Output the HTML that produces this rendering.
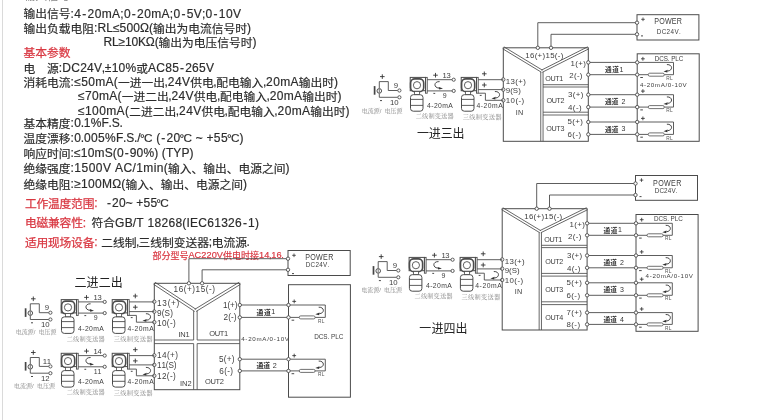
<!DOCTYPE html>
<html lang="zh"><head><meta charset="utf-8"><title>Signal isolator specifications and wiring diagrams</title>
<style>
html,body{margin:0;padding:0;background:#fff}
body{width:766px;height:420px;overflow:hidden;font-family:"Liberation Sans","Noto Sans CJK SC",sans-serif}
svg{display:block}
svg text{font-family:"Liberation Sans","Noto Sans CJK SC",sans-serif}
svg text.sf{font-family:"Liberation Serif","Noto Serif CJK SC",serif}
</style></head><body>
<svg width="766" height="420" viewBox="0 0 766 420">
<defs><filter id="soft" x="0" y="0" width="766" height="420" filterUnits="userSpaceOnUse"><feGaussianBlur stdDeviation="0.42"/></filter></defs>
<rect width="766" height="420" fill="#fff"/>
<g filter="url(#soft)">
<rect x="2" y="0" width="1" height="420" fill="#dadada"/>
<g fill="#888" font-size="12" aria-label="输入信号:"><text x="23.6 35.35 47.1 58.84" y="0.03" font-size="11.75">输入信号</text><text x="70.59" y="-0.5">:</text></g>
<g fill="#2c2c2c" font-size="12" stroke="#2c2c2c" stroke-width="0.18" aria-label="输出信号:4-20mA;0-20mA;0-5V;0-10V"><text x="23.6 35.35 47.1 58.84" y="18.13" font-size="11.75">输出信号</text><text x="70.59 74.31 82.27 87.55 94.66 101.72 112.04 120.27 123.88 131.84 137.12 144.23 151.29 161.62 169.84 173.45 181.41 186.69 193.75 201.98 205.59 213.55 218.83 225.94 233" y="17.6">:4-20mA;0-20mA;0-5V;0-10V</text></g>
<g fill="#2c2c2c" font-size="12" stroke="#2c2c2c" stroke-width="0.18" aria-label="输出负载电阻:RL≤500Ω(输出为电流信号时)"><text x="23.6 35.35 47.1 58.84 70.59 82.34" y="32.93" font-size="11.75">输出负载电阻</text><text x="94.09 97.46 106.17 112.88 119.56 126.38 133.2 139.97 148.98" y="32.4">:RL≤500Ω(</text><text x="153.02 164.77 176.52 188.26 200.01 211.76 223.51 235.26" y="32.93" font-size="11.75">输出为电流信号时</text><text x="247" y="32.4">)</text></g>
<g fill="#2c2c2c" font-size="12" stroke="#2c2c2c" stroke-width="0.18" aria-label="RL≥10KΩ(输出为电压信号时)"><text x="103.6 112.06 118.53 124.97 131.54 138.06 145.86 154.63" y="46">RL≥10KΩ(</text><text x="158.42 170.17 181.92 193.66 205.41 217.16 228.91 240.66" y="46.53" font-size="11.75">输出为电压信号时</text><text x="252.4" y="46">)</text></g>
<g fill="#d93842" font-size="12" stroke="#d93842" stroke-width="0.25" aria-label="基本参数"><text x="23.6 35.35 47.1 58.85" y="56.53" font-size="11.75">基本参数</text></g>
<g fill="#2c2c2c" font-size="12" stroke="#2c2c2c" stroke-width="0.18" aria-label="电 源:DC24V,±10%或AC85-265V"><text x="23.6 47.1" y="72.53" font-size="11.75">电源</text><text x="58.84 62.37 71.22 80.13 87.1 94.02 101.74 104.8 111.63 118.59 125.51" y="72">:DC24V,±10%</text><text x="136.37" y="72.53" font-size="11.75">或</text><text x="148.12 156.31 165.22 172.19 180 185.14 192.11 199.08 206" y="72">AC85-265V</text></g>
<g fill="#2c2c2c" font-size="12" stroke="#2c2c2c" stroke-width="0.18" aria-label="消耗电流:≤50mA(一进一出,24V供电,配电输入,20mA输出时)"><text x="23.6 35.35 47.1 58.84" y="86.93" font-size="11.75">消耗电流</text><text x="70.59 74.21 81.14 88.21 95.22 105.51 113.8" y="86.4">:≤50mA(</text><text x="118.08 129.83 141.58 153.32" y="86.93" font-size="11.75">一进一出</text><text x="164.61 167.81 174.88 181.9" y="86.4">,24V</text><text x="190.19 201.93" y="86.93" font-size="11.75">供电</text><text x="213.22" y="86.4">,</text><text x="216.37 228.12 239.87 251.61" y="86.93" font-size="11.75">配电输入</text><text x="262.9 266.1 273.17 280.18 290.47" y="86.4">,20mA</text><text x="298.76 310.51 322.26" y="86.93" font-size="11.75">输出时</text><text x="334" y="86.4">)</text></g>
<g fill="#2c2c2c" font-size="12" stroke="#2c2c2c" stroke-width="0.18" aria-label="≤70mA(一进二出,24V供电,配电输入,20mA输出时)"><text x="78 84.91 91.97 98.97 109.25 117.53" y="100.4">≤70mA(</text><text x="121.8 133.55 145.29 157.04" y="100.93" font-size="11.75">一进二出</text><text x="168.32 171.52 178.57 185.58" y="100.4">,24V</text><text x="193.86 205.6" y="100.93" font-size="11.75">供电</text><text x="216.89" y="100.4">,</text><text x="220.03 231.78 243.52 255.27" y="100.93" font-size="11.75">配电输入</text><text x="266.55 269.75 276.81 283.81 294.08" y="100.4">,20mA</text><text x="302.36 314.11 325.86" y="100.93" font-size="11.75">输出时</text><text x="337.6" y="100.4">)</text></g>
<g fill="#2c2c2c" font-size="12" stroke="#2c2c2c" stroke-width="0.18" aria-label="≤100mA(二进二出,24V供电,配电输入,20mA输出时)"><text x="78 84.97 92.08 99.19 106.25 116.58 124.91" y="115">≤100mA(</text><text x="129.24 140.99 152.74 164.49" y="115.53" font-size="11.75">二进二出</text><text x="175.77 179.02 186.13 193.19" y="115">,24V</text><text x="201.52 213.27" y="115.53" font-size="11.75">供电</text><text x="224.55" y="115">,</text><text x="227.75 239.5 251.25 262.99" y="115.53" font-size="11.75">配电输入</text><text x="274.28 277.53 284.64 291.7 302.02" y="115">,20mA</text><text x="310.36 322.11 333.86" y="115.53" font-size="11.75">输出时</text><text x="345.6" y="115">)</text></g>
<g fill="#2c2c2c" font-size="12" stroke="#2c2c2c" stroke-width="0.18" aria-label="基本精度:0.1%F.S."><text x="23.6 35.35 47.1 58.84" y="127.83" font-size="11.75">基本精度</text><text x="70.59 74.15 80.64 83.79 90.68 101.52 108.61 111.71 119.47" y="127.3">:0.1%F.S.</text></g>
<g fill="#2c2c2c" font-size="12" stroke="#2c2c2c" stroke-width="0.18" aria-label="温度漂移:0.005%F.S./℃ (-20℃ ~ +55℃)"><text x="23.6 35.35 47.1 58.84" y="142.53" font-size="11.75">温度漂移</text><text x="70.59 74.22 80.78 83.99 91.01 98.03 105 115.91 123.07 126.23 134.07 137.23" y="142">:0.005%F.S./</text><text x="139.91 143.91" y="142" font-size="11.76">°C</text><text x="156.13 161.26 166.45 173.47" y="142">(-20</text><text x="179.53 183.53" y="142" font-size="11.76">°C</text><text x="195.75" y="142">~</text><text x="206.57 213.87 220.89" y="142">+55</text><text x="226.96 230.96" y="142" font-size="11.76">°C</text><text x="239.6" y="142">)</text></g>
<g fill="#2c2c2c" font-size="12" stroke="#2c2c2c" stroke-width="0.18" aria-label="响应时间:≤10mS(0-90%) (TYP)"><text x="23.6 35.35 47.1 58.84" y="157.73" font-size="11.75">响应时间</text><text x="70.59 74.04 80.79 87.69 94.53 104.64 112.76 116.92 124.67 129.73 136.62 143.47 154.25" y="157.2">:≤10mS(0-90%)</text><text x="161.81 165.92 173.37 181.49 189.6" y="157.2">(TYP)</text></g>
<g fill="#2c2c2c" font-size="12" stroke="#2c2c2c" stroke-width="0.18" aria-label="绝缘强度:1500V AC/1min(输入、输出、电源之间)"><text x="23.6 35.35 47.1 58.84" y="172.93" font-size="11.75">绝缘强度</text><text x="70.59 74.35 81.51 88.66 95.82 102.92" y="172.4">:1500V</text><text x="115.01 123.39 132.43 136.19 143.29 153.66 156.7 163.75" y="172.4">AC/1min(</text><text x="168.12 179.87 191.62 203.37 215.12 226.86 238.61 250.36 262.11 273.86" y="172.93" font-size="11.75">输入、输出、电源之间</text><text x="285.6" y="172.4">)</text></g>
<g fill="#2c2c2c" font-size="12" stroke="#2c2c2c" stroke-width="0.18" aria-label="绝缘电阻:≥100MΩ(输入、输出、电源之间)"><text x="23.6 35.35 47.1 58.84" y="188.53" font-size="11.75">绝缘电阻</text><text x="70.59 74.14 80.99 87.99 94.98 101.92 112.13 121.31" y="188">:≥100MΩ(</text><text x="125.52 137.27 149.02 160.77 172.52 184.26 196.01 207.76 219.51 231.26" y="188.53" font-size="11.75">输入、输出、电源之间</text><text x="243" y="188">)</text></g>
<g fill="#d93842" font-size="12" stroke="#d93842" stroke-width="0.25" aria-label="工作温度范围:"><text x="25 36.53 48.06 59.58 71.11 82.64" y="207.93" font-size="11.75">工作温度范围</text><text x="94.17" y="207.4">:</text></g>
<g fill="#2c2c2c" font-size="12" stroke="#2c2c2c" stroke-width="0.18" aria-label="-20~ +55℃"><text x="106.9 111.97 118.88 125.73" y="207.4">-20~</text><text x="136.31 143.5 150.4" y="207.4">+55</text><text x="156.35 160.35" y="207.4" font-size="11.76">°C</text></g>
<g fill="#d93842" font-size="12" stroke="#d93842" stroke-width="0.25" aria-label="电磁兼容性:"><text x="25 36.53 48.07 59.6 71.13" y="227.13" font-size="11.75">电磁兼容性</text><text x="82.67" y="226.6">:</text></g>
<g fill="#2c2c2c" font-size="12" stroke="#2c2c2c" stroke-width="0.18" aria-label="符合GB/T 18268(IEC61326-1)"><text x="91.6 103.35" y="227.13" font-size="11.75">符合</text><text x="115.1 124.63 132.83 136.37" y="226.6">GB/T</text><text x="147.48 154.46 161.44 168.42 175.4 182.33 186.53 190.06 198.26 207.18 214.16 221.14 228.12 235.1 242.93 248.08 255" y="226.6">18268(IEC61326-1)</text></g>
<g fill="#d93842" font-size="12" stroke="#d93842" stroke-width="0.25" aria-label="适用现场设备:"><text x="25 36.53 48.06 59.58 71.11 82.64" y="246.53" font-size="11.75">适用现场设备</text><text x="94.17" y="246">:</text></g>
<g fill="#2c2c2c" font-size="12" stroke="#2c2c2c" stroke-width="0.18" aria-label="二线制,三线制变送器;电流源."><text x="101.2 112.95 124.7" y="246.53" font-size="11.75">二线制</text><text x="135.98" y="246">,</text><text x="138.44 150.18 161.93 173.68 185.43 197.18" y="246.53" font-size="11.75">三线制变送器</text><text x="208.82" y="246">;</text><text x="211.64 223.38 235.13" y="246.53" font-size="11.75">电流源</text><text x="246.47" y="246">.</text></g>
<g fill="#d93842" font-size="9.2" stroke="#d93842" stroke-width="0.2" aria-label="部分型号AC220V供电时接14,16."><text x="152.4 161.4 170.4 179.4" y="258.8" font-size="9">部分型号</text><text x="188.4 194.54 201.23 206.43 211.63 216.79" y="258.4">AC220V</text><text x="222.92 231.92 240.92 249.92" y="258.8" font-size="9">供电时接</text><text x="258.97 264.17 268.97 271.21 276.41 281.26" y="258.4">14,16.</text></g>
<path d="M537.8 47.8 L537.8 22.7 L637 22.7" fill="none" stroke="#4c4c4c" stroke-width="0.9"/>
<path d="M551 47.8 L551 34.3 L637 34.3" fill="none" stroke="#4c4c4c" stroke-width="0.9"/>
<rect x="503.3" y="47.8" width="85" height="93.5" fill="none" stroke="#4c4c4c" stroke-width="1"/>
<path d="M503.9 46.82 L542.5 70.22" fill="none" stroke="#4c4c4c" stroke-width="0.85"/>
<path d="M588.82 48.83 L542.42 72.23" fill="none" stroke="#4c4c4c" stroke-width="0.85"/>
<path d="M502.7 48.78 L541.3 72.18" fill="none" stroke="#4c4c4c" stroke-width="0.85"/>
<path d="M587.78 46.77 L541.38 70.17" fill="none" stroke="#4c4c4c" stroke-width="0.85"/>
<path d="M540.75 71.8 L540.75 141.3" fill="none" stroke="#4c4c4c" stroke-width="0.85"/>
<path d="M543.05 71.8 L543.05 141.3" fill="none" stroke="#4c4c4c" stroke-width="0.85"/>
<path d="M543.05 84.7 L588.3 84.7" fill="none" stroke="#4c4c4c" stroke-width="0.85"/>
<path d="M543.05 87 L588.3 87" fill="none" stroke="#4c4c4c" stroke-width="0.85"/>
<path d="M543.05 112.2 L588.3 112.2" fill="none" stroke="#4c4c4c" stroke-width="0.85"/>
<path d="M543.05 115 L588.3 115" fill="none" stroke="#4c4c4c" stroke-width="0.85"/>
<rect x="637" y="14.7" width="61.9" height="25.3" fill="none" stroke="#4c4c4c" stroke-width="1"/>
<path d="M641.2 19.3H644.8M643 17.5V21.1" stroke="#333" stroke-width="0.8" fill="none"/>
<path d="M641 35.9H643" stroke="#333" stroke-width="0.9" fill="none"/>
<g fill="#3e3e3e" font-size="8.5" aria-label="POWER"><text transform="scale(0.84 1)" x="778.81 784.72 791.58 799.85 805.77" y="24.24">POWER</text></g>
<g fill="#3e3e3e" font-size="6.3" aria-label="DC24V."><text x="656.7 661.66 666.62 670.53 674.44 679.05" y="33.96">DC24V.</text></g>
<rect x="637.2" y="53.8" width="62" height="87.5" fill="none" stroke="#4c4c4c" stroke-width="1"/>
<path d="M588.3 62.4 L637.2 62.4" fill="none" stroke="#4c4c4c" stroke-width="0.9"/>
<path d="M588.3 74.7 L637.2 74.7" fill="none" stroke="#4c4c4c" stroke-width="0.9"/>
<g fill="#333" font-size="7" aria-label="通道1"><text x="605 612.2" y="71.87" font-size="6.65" font-weight="bold">通道</text><text x="619.41" y="71.57">1</text></g>
<path d="M637.2 62.4 L673.5 62.4 L673.5 74.7 L664.3 74.7" fill="none" stroke="#4c4c4c" stroke-width="0.9"/>
<path d="M637.2 74.7 L648.3 74.7" fill="none" stroke="#4c4c4c" stroke-width="0.9"/>
<rect x="648.3" y="73.2" width="16" height="3" rx="1.4" fill="#fff" stroke="#4c4c4c" stroke-width="0.8"/>
<path d="M666.9 64.55 C672.9 64.25 673.1 70.75 667.5 71.05" stroke="#333" stroke-width="0.9" fill="none"/>
<path d="M663.5 71.55L667.7 69.85L667.3 72.55Z" fill="#333"/>
<path d="M641 58.8H644.8M642.9 56.9V60.7" stroke="#333" stroke-width="0.85" fill="none"/>
<path d="M640.3 77.5H642.9" stroke="#333" stroke-width="0.9" fill="none"/>
<g fill="#555" font-size="4.8" aria-label="RL"><text x="666.3 670.03" y="79.82">RL</text></g>
<circle cx="588.3" cy="62.4" r="1.7" fill="#fff" stroke="#4c4c4c" stroke-width="0.9"/>
<circle cx="588.3" cy="74.7" r="1.7" fill="#fff" stroke="#4c4c4c" stroke-width="0.9"/>
<circle cx="637.2" cy="62.4" r="1.7" fill="#fff" stroke="#4c4c4c" stroke-width="0.9"/>
<circle cx="637.2" cy="74.7" r="1.7" fill="#fff" stroke="#4c4c4c" stroke-width="0.9"/>
<path d="M588.3 94.7 L637.2 94.7" fill="none" stroke="#4c4c4c" stroke-width="0.9"/>
<path d="M588.3 107.1 L637.2 107.1" fill="none" stroke="#4c4c4c" stroke-width="0.9"/>
<g fill="#333" font-size="7" aria-label="通道 2"><text x="605 611.65" y="104.22" font-size="6.65" font-weight="bold">通道</text><text x="621.61" y="103.92">2</text></g>
<path d="M637.2 94.7 L673.5 94.7 L673.5 107.1 L664.3 107.1" fill="none" stroke="#4c4c4c" stroke-width="0.9"/>
<path d="M637.2 107.1 L648.3 107.1" fill="none" stroke="#4c4c4c" stroke-width="0.9"/>
<rect x="648.3" y="105.6" width="16" height="3" rx="1.4" fill="#fff" stroke="#4c4c4c" stroke-width="0.8"/>
<path d="M666.9 96.9 C672.9 96.6 673.1 103.1 667.5 103.4" stroke="#333" stroke-width="0.9" fill="none"/>
<path d="M663.5 103.9L667.7 102.2L667.3 104.9Z" fill="#333"/>
<path d="M641 91.1H644.8M642.9 89.2V93" stroke="#333" stroke-width="0.85" fill="none"/>
<path d="M640.3 109.9H642.9" stroke="#333" stroke-width="0.9" fill="none"/>
<g fill="#555" font-size="4.8" aria-label="RL"><text x="666.3 670.03" y="112.22">RL</text></g>
<circle cx="588.3" cy="94.7" r="1.7" fill="#fff" stroke="#4c4c4c" stroke-width="0.9"/>
<circle cx="588.3" cy="107.1" r="1.7" fill="#fff" stroke="#4c4c4c" stroke-width="0.9"/>
<circle cx="637.2" cy="94.7" r="1.7" fill="#fff" stroke="#4c4c4c" stroke-width="0.9"/>
<circle cx="637.2" cy="107.1" r="1.7" fill="#fff" stroke="#4c4c4c" stroke-width="0.9"/>
<path d="M588.3 122 L637.2 122" fill="none" stroke="#4c4c4c" stroke-width="0.9"/>
<path d="M588.3 134.4 L637.2 134.4" fill="none" stroke="#4c4c4c" stroke-width="0.9"/>
<g fill="#333" font-size="7" aria-label="通道 3"><text x="605 611.65" y="131.52" font-size="6.65" font-weight="bold">通道</text><text x="621.61" y="131.22">3</text></g>
<path d="M637.2 122 L673.5 122 L673.5 134.4 L664.3 134.4" fill="none" stroke="#4c4c4c" stroke-width="0.9"/>
<path d="M637.2 134.4 L648.3 134.4" fill="none" stroke="#4c4c4c" stroke-width="0.9"/>
<rect x="648.3" y="132.9" width="16" height="3" rx="1.4" fill="#fff" stroke="#4c4c4c" stroke-width="0.8"/>
<path d="M666.9 124.2 C672.9 123.9 673.1 130.4 667.5 130.7" stroke="#333" stroke-width="0.9" fill="none"/>
<path d="M663.5 131.2L667.7 129.5L667.3 132.2Z" fill="#333"/>
<path d="M641 118.4H644.8M642.9 116.5V120.3" stroke="#333" stroke-width="0.85" fill="none"/>
<path d="M640.3 137.2H642.9" stroke="#333" stroke-width="0.9" fill="none"/>
<g fill="#555" font-size="4.8" aria-label="RL"><text x="666.3 670.03" y="139.52">RL</text></g>
<circle cx="588.3" cy="122" r="1.7" fill="#fff" stroke="#4c4c4c" stroke-width="0.9"/>
<circle cx="588.3" cy="134.4" r="1.7" fill="#fff" stroke="#4c4c4c" stroke-width="0.9"/>
<circle cx="637.2" cy="122" r="1.7" fill="#fff" stroke="#4c4c4c" stroke-width="0.9"/>
<circle cx="637.2" cy="134.4" r="1.7" fill="#fff" stroke="#4c4c4c" stroke-width="0.9"/>
<g fill="#3e3e3e" font-size="6.3" aria-label="DCS. PLC"><text x="654.7 659.18 663.67 667.81" y="60.56">DCS.</text><text x="671.18 675.31 678.75" y="60.56">PLC</text></g>
<g fill="#3e3e3e" font-size="6.2" aria-label="4-20mA/0-10V"><text x="640 644.06 646.74 650.79 654.85 660.63 665.38 667.71 671.77 674.45 678.51 682.56" y="86.82">4-20mA/0-10V</text></g>
<g fill="#3e3e3e" font-size="7.9" aria-label="16(+)15(-)"><text x="525.3 529.99 534.68 537.6 542.51 545.44 550.13 554.82 557.74 560.67" y="58.23">16(+)15(-)</text></g>
<g fill="#3e3e3e" font-size="7.9" aria-label="1(+)"><text x="570.5 575.3 578.35 583.37" y="65.83">1(+)</text></g>
<g fill="#3e3e3e" font-size="7.9" aria-label="2(-)"><text x="569.2 573.93 576.9 579.87" y="78.13">2(-)</text></g>
<g fill="#3e3e3e" font-size="7.9" aria-label="3(+)"><text x="568 572.74 575.71 580.67" y="97.23">3(+)</text></g>
<g fill="#3e3e3e" font-size="7.9" aria-label="4(-)"><text x="568 572.83 575.9 578.97" y="110.03">4(-)</text></g>
<g fill="#3e3e3e" font-size="7.9" aria-label="5(+)"><text x="567.5 572.3 575.35 580.37" y="124.33">5(+)</text></g>
<g fill="#3e3e3e" font-size="7.9" aria-label="6(-)"><text x="567.5 572.36 575.47 578.57" y="137.13">6(-)</text></g>
<g fill="#3e3e3e" font-size="7.9" aria-label="13(+)"><text x="505.8 510.53 515.26 518.22 523.17" y="83.83">13(+)</text></g>
<g fill="#3e3e3e" font-size="7.9" aria-label="9(S)"><text x="505.8 510.22 512.87 518.17" y="93.03">9(S)</text></g>
<g fill="#3e3e3e" font-size="7.9" aria-label="10(-)"><text x="505.8 510.62 515.45 518.51 521.57" y="103.43">10(-)</text></g>
<g fill="#3e3e3e" font-size="7.2" aria-label="OUT1"><text x="545.2 550.43 555.27 559.3" y="80.78">OUT1</text></g>
<g fill="#3e3e3e" font-size="7.2" aria-label="OUT2"><text x="546.5 551.73 556.57 560.6" y="102.98">OUT2</text></g>
<g fill="#3e3e3e" font-size="7.2" aria-label="OUT3"><text x="546.3 551.53 556.37 560.4" y="130.78">OUT3</text></g>
<g fill="#3e3e3e" font-size="7.2" aria-label="IN"><text x="515.8 518.1" y="115.18">IN</text></g>
<circle cx="537.8" cy="47.8" r="1.7" fill="#fff" stroke="#4c4c4c" stroke-width="0.9"/>
<circle cx="551" cy="47.8" r="1.7" fill="#fff" stroke="#4c4c4c" stroke-width="0.9"/>
<circle cx="503.3" cy="79.5" r="1.7" fill="#fff" stroke="#4c4c4c" stroke-width="0.9"/>
<circle cx="503.3" cy="89.6" r="1.7" fill="#fff" stroke="#4c4c4c" stroke-width="0.9"/>
<circle cx="503.3" cy="100.3" r="1.7" fill="#fff" stroke="#4c4c4c" stroke-width="0.9"/>
<circle cx="637" cy="22.7" r="1.7" fill="#fff" stroke="#4c4c4c" stroke-width="0.9"/>
<circle cx="637" cy="34.3" r="1.7" fill="#fff" stroke="#4c4c4c" stroke-width="0.9"/>
<path d="M379.3 88.4 L379.3 81.6 L388.3 81.6 L388.3 90.5 L397.8 90.5" fill="none" stroke="#4c4c4c" stroke-width="0.9"/>
<path d="M379.3 93.4 L379.3 97.3 L397.8 97.3" fill="none" stroke="#4c4c4c" stroke-width="0.9"/>
<circle cx="379.3" cy="90.9" r="2.3" fill="#fff" stroke="#4c4c4c" stroke-width="1"/>
<path d="M379.3 89.1 L379.3 92.7" fill="none" stroke="#4c4c4c" stroke-width="0.8"/>
<path d="M374.6 86.1 L374.6 94.7" fill="none" stroke="#444" stroke-width="1.7"/>
<circle cx="399.4" cy="90.5" r="1.6" fill="#fff" stroke="#4c4c4c" stroke-width="0.9"/>
<circle cx="399.4" cy="97.3" r="1.6" fill="#fff" stroke="#4c4c4c" stroke-width="0.9"/>
<path d="M380 76.6H384.6M382.3 74.3V78.9" stroke="#333" stroke-width="0.9" fill="none"/>
<path d="M380 100.6H382" stroke="#333" stroke-width="0.9" fill="none"/>
<g fill="#3e3e3e" font-size="7.8" aria-label="9"><text x="393.75" y="88.09">9</text></g>
<g fill="#3e3e3e" font-size="7.8" aria-label="10"><text x="390 394.26" y="105.09">10</text></g>
<g fill="#8a8a8a" font-size="6" aria-label="电流源/电压源"><text class="sf" x="361.7 367.7 373.7" y="112.92" font-size="6">电流源</text><text x="379.7" y="112.65">/</text><text class="sf" x="384.5 390.5 396.5" y="112.92" font-size="6">电压源</text></g>
<rect x="410.2" y="77.4" width="15.3" height="13.3" fill="none" stroke="#4c4c4c" stroke-width="1"/>
<rect x="425.5" y="77.4" width="1.7" height="15.8" fill="none" stroke="#4c4c4c" stroke-width="0.9"/>
<rect x="410.6" y="78.9" width="13.1" height="12.7" rx="4.2" fill="#fff" stroke="#4c4c4c" stroke-width="1.6"/>
<circle cx="417" cy="85.2" r="3.6" fill="#fff" stroke="#4c4c4c" stroke-width="0.9"/>
<rect x="414.5" y="91.4" width="5" height="3.3" fill="#fff" stroke="#4c4c4c" stroke-width="0.8"/>
<rect x="410.5" y="94.7" width="12.5" height="16.5" rx="2.8" fill="#fff" stroke="#4c4c4c" stroke-width="1"/>
<path d="M410.5 99.4 L423 99.4" fill="none" stroke="#4c4c4c" stroke-width="0.9"/>
<path d="M410.5 105.4 L423 105.4" fill="none" stroke="#4c4c4c" stroke-width="0.9"/>
<path d="M427.2 79.7 L452.1 79.7" fill="none" stroke="#4c4c4c" stroke-width="0.9"/>
<path d="M427.2 90.9 L452.1 90.9" fill="none" stroke="#4c4c4c" stroke-width="0.9"/>
<circle cx="453.7" cy="79.7" r="1.6" fill="#fff" stroke="#4c4c4c" stroke-width="0.9"/>
<circle cx="453.7" cy="90.9" r="1.6" fill="#fff" stroke="#4c4c4c" stroke-width="0.9"/>
<path d="M433.2 75.2H437.8M435.5 72.9V77.5" stroke="#333" stroke-width="0.9" fill="none"/>
<path d="M433.4 93.4H435.2" stroke="#333" stroke-width="0.9" fill="none"/>
<g fill="#3e3e3e" font-size="7.6" aria-label="13"><text x="442.5 446.47" y="77.62">13</text></g>
<g fill="#3e3e3e" font-size="7" aria-label="9"><text x="442.7" y="98.21">9</text></g>
<path d="M439.6 81.6 C433.6 81.3 433.4 87.8 439 88.1" stroke="#333" stroke-width="0.9" fill="none"/>
<path d="M443 88.6L438.8 86.9L439.2 89.6Z" fill="#333"/>
<g fill="#3e3e3e" font-size="6.8" aria-label="4-20mA"><text x="427.1 431.28 433.94 438.12 442.3 448.36" y="108.33">4-20mA</text></g>
<g fill="#8a8a8a" font-size="6.2" aria-label="二线制变送器"><text class="sf" x="415.7 422.04 428.38 434.72 441.06 447.4" y="118.4">二线制变送器</text></g>
<rect x="461.2" y="77.4" width="15.3" height="13.3" fill="none" stroke="#4c4c4c" stroke-width="1"/>
<rect x="476.5" y="77.4" width="1.7" height="15.8" fill="none" stroke="#4c4c4c" stroke-width="0.9"/>
<rect x="461.6" y="78.9" width="13.1" height="12.7" rx="4.2" fill="#fff" stroke="#4c4c4c" stroke-width="1.6"/>
<circle cx="468" cy="85.2" r="3.6" fill="#fff" stroke="#4c4c4c" stroke-width="0.9"/>
<rect x="465.5" y="91.4" width="5" height="3.3" fill="#fff" stroke="#4c4c4c" stroke-width="0.8"/>
<rect x="461.5" y="94.7" width="12.5" height="16.5" rx="2.8" fill="#fff" stroke="#4c4c4c" stroke-width="1"/>
<path d="M461.5 99.4 L474 99.4" fill="none" stroke="#4c4c4c" stroke-width="0.9"/>
<path d="M461.5 105.4 L474 105.4" fill="none" stroke="#4c4c4c" stroke-width="0.9"/>
<path d="M478.2 79.7 L503.3 79.7" fill="none" stroke="#4c4c4c" stroke-width="0.9"/>
<path d="M478.2 89.6 L503.3 89.6" fill="none" stroke="#4c4c4c" stroke-width="0.9"/>
<path d="M478.2 93.2 L485.4 93.2 L485.4 100.3 L503.3 100.3" fill="none" stroke="#4c4c4c" stroke-width="0.9"/>
<path d="M482 73.8H486.6M484.3 71.5V76.1" stroke="#333" stroke-width="0.9" fill="none"/>
<path d="M482 85H486.6M484.3 82.7V87.3" stroke="#333" stroke-width="0.9" fill="none"/>
<path d="M479.8 95.4H481.6" stroke="#333" stroke-width="0.9" fill="none"/>
<path d="M494.9 91.5 C500.9 91.2 501.1 97.7 495.5 98" stroke="#333" stroke-width="0.9" fill="none"/>
<path d="M491.5 98.5L495.7 96.8L495.3 99.5Z" fill="#333"/>
<g fill="#3e3e3e" font-size="6.8" aria-label="4-20mA"><text x="476.4 480.7 483.48 487.78 492.08 498.26" y="108.33">4-20mA</text></g>
<g fill="#8a8a8a" font-size="6.2" aria-label="三线制变送器"><text class="sf" x="462.7 469.2 475.7 482.2 488.7 495.2" y="118.9">三线制变送器</text></g>
<g fill="#222" font-size="12" aria-label="一进三出"><text x="416.9 428.8 440.7 452.6" y="138.14">一进三出</text></g>
<path d="M536.7 208.7 L536.7 183.5 L635.5 183.5" fill="none" stroke="#4c4c4c" stroke-width="0.9"/>
<path d="M549.5 208.7 L549.5 195 L635.5 195" fill="none" stroke="#4c4c4c" stroke-width="0.9"/>
<rect x="502.2" y="208.7" width="84.9" height="121.3" fill="none" stroke="#4c4c4c" stroke-width="1"/>
<path d="M502.79 207.72 L540.89 230.72" fill="none" stroke="#4c4c4c" stroke-width="0.85"/>
<path d="M587.61 209.73 L540.81 232.73" fill="none" stroke="#4c4c4c" stroke-width="0.85"/>
<path d="M501.61 209.68 L539.71 232.68" fill="none" stroke="#4c4c4c" stroke-width="0.85"/>
<path d="M586.59 207.67 L539.79 230.67" fill="none" stroke="#4c4c4c" stroke-width="0.85"/>
<path d="M539.15 232.3 L539.15 330" fill="none" stroke="#4c4c4c" stroke-width="0.85"/>
<path d="M541.45 232.3 L541.45 330" fill="none" stroke="#4c4c4c" stroke-width="0.85"/>
<path d="M541.45 245.3 L587.1 245.3" fill="none" stroke="#4c4c4c" stroke-width="0.85"/>
<path d="M541.45 247.6 L587.1 247.6" fill="none" stroke="#4c4c4c" stroke-width="0.85"/>
<path d="M541.45 273.4 L587.1 273.4" fill="none" stroke="#4c4c4c" stroke-width="0.85"/>
<path d="M541.45 276.1 L587.1 276.1" fill="none" stroke="#4c4c4c" stroke-width="0.85"/>
<path d="M541.45 301.8 L587.1 301.8" fill="none" stroke="#4c4c4c" stroke-width="0.85"/>
<path d="M541.45 304.6 L587.1 304.6" fill="none" stroke="#4c4c4c" stroke-width="0.85"/>
<rect x="635.5" y="175.5" width="62" height="24.8" fill="none" stroke="#4c4c4c" stroke-width="1"/>
<path d="M639.7 180.1H643.3M641.5 178.3V181.9" stroke="#333" stroke-width="0.8" fill="none"/>
<path d="M639.5 196.6H641.5" stroke="#333" stroke-width="0.9" fill="none"/>
<g fill="#3e3e3e" font-size="8.5" aria-label="POWER"><text transform="scale(0.84 1)" x="777.44 783.5 790.51 798.93 804.99" y="185.54">POWER</text></g>
<g fill="#3e3e3e" font-size="6.3" aria-label="DC24V."><text x="654.7 659.4 664.1 667.75 671.4 675.75" y="192.66">DC24V.</text></g>
<rect x="636" y="214.5" width="62.1" height="116.8" fill="none" stroke="#4c4c4c" stroke-width="1"/>
<path d="M587.1 223.3 L636 223.3" fill="none" stroke="#4c4c4c" stroke-width="0.9"/>
<path d="M587.1 235.3 L636 235.3" fill="none" stroke="#4c4c4c" stroke-width="0.9"/>
<g fill="#333" font-size="7" aria-label="通道1"><text x="603.5 610.7" y="232.62" font-size="6.65" font-weight="bold">通道</text><text x="617.91" y="232.32">1</text></g>
<path d="M636 223.3 L672.3 223.3 L672.3 235.3 L663.1 235.3" fill="none" stroke="#4c4c4c" stroke-width="0.9"/>
<path d="M636 235.3 L647.1 235.3" fill="none" stroke="#4c4c4c" stroke-width="0.9"/>
<rect x="647.1" y="233.8" width="16" height="3" rx="1.4" fill="#fff" stroke="#4c4c4c" stroke-width="0.8"/>
<path d="M665.7 225.3 C671.7 225 671.9 231.5 666.3 231.8" stroke="#333" stroke-width="0.9" fill="none"/>
<path d="M662.3 232.3L666.5 230.6L666.1 233.3Z" fill="#333"/>
<path d="M639.8 219.7H643.6M641.7 217.8V221.6" stroke="#333" stroke-width="0.85" fill="none"/>
<path d="M639.1 238.1H641.7" stroke="#333" stroke-width="0.9" fill="none"/>
<g fill="#555" font-size="4.8" aria-label="RL"><text x="665.1 668.83" y="240.42">RL</text></g>
<circle cx="587.1" cy="223.3" r="1.7" fill="#fff" stroke="#4c4c4c" stroke-width="0.9"/>
<circle cx="587.1" cy="235.3" r="1.7" fill="#fff" stroke="#4c4c4c" stroke-width="0.9"/>
<circle cx="636" cy="223.3" r="1.7" fill="#fff" stroke="#4c4c4c" stroke-width="0.9"/>
<circle cx="636" cy="235.3" r="1.7" fill="#fff" stroke="#4c4c4c" stroke-width="0.9"/>
<path d="M587.1 255.5 L636 255.5" fill="none" stroke="#4c4c4c" stroke-width="0.9"/>
<path d="M587.1 267.8 L636 267.8" fill="none" stroke="#4c4c4c" stroke-width="0.9"/>
<g fill="#333" font-size="7" aria-label="通道 2"><text x="603.5 610.15" y="264.97" font-size="6.65" font-weight="bold">通道</text><text x="620.11" y="264.67">2</text></g>
<path d="M636 255.5 L672.3 255.5 L672.3 267.8 L663.1 267.8" fill="none" stroke="#4c4c4c" stroke-width="0.9"/>
<path d="M636 267.8 L647.1 267.8" fill="none" stroke="#4c4c4c" stroke-width="0.9"/>
<rect x="647.1" y="266.3" width="16" height="3" rx="1.4" fill="#fff" stroke="#4c4c4c" stroke-width="0.8"/>
<path d="M665.7 257.65 C671.7 257.35 671.9 263.85 666.3 264.15" stroke="#333" stroke-width="0.9" fill="none"/>
<path d="M662.3 264.65L666.5 262.95L666.1 265.65Z" fill="#333"/>
<path d="M639.8 251.9H643.6M641.7 250V253.8" stroke="#333" stroke-width="0.85" fill="none"/>
<path d="M639.1 270.6H641.7" stroke="#333" stroke-width="0.9" fill="none"/>
<g fill="#555" font-size="4.8" aria-label="RL"><text x="665.1 668.83" y="272.92">RL</text></g>
<circle cx="587.1" cy="255.5" r="1.7" fill="#fff" stroke="#4c4c4c" stroke-width="0.9"/>
<circle cx="587.1" cy="267.8" r="1.7" fill="#fff" stroke="#4c4c4c" stroke-width="0.9"/>
<circle cx="636" cy="255.5" r="1.7" fill="#fff" stroke="#4c4c4c" stroke-width="0.9"/>
<circle cx="636" cy="267.8" r="1.7" fill="#fff" stroke="#4c4c4c" stroke-width="0.9"/>
<path d="M587.1 282.8 L636 282.8" fill="none" stroke="#4c4c4c" stroke-width="0.9"/>
<path d="M587.1 295.3 L636 295.3" fill="none" stroke="#4c4c4c" stroke-width="0.9"/>
<g fill="#333" font-size="7" aria-label="通道 3"><text x="603.5 610.15" y="292.37" font-size="6.65" font-weight="bold">通道</text><text x="620.11" y="292.07">3</text></g>
<path d="M636 282.8 L672.3 282.8 L672.3 295.3 L663.1 295.3" fill="none" stroke="#4c4c4c" stroke-width="0.9"/>
<path d="M636 295.3 L647.1 295.3" fill="none" stroke="#4c4c4c" stroke-width="0.9"/>
<rect x="647.1" y="293.8" width="16" height="3" rx="1.4" fill="#fff" stroke="#4c4c4c" stroke-width="0.8"/>
<path d="M665.7 285.05 C671.7 284.75 671.9 291.25 666.3 291.55" stroke="#333" stroke-width="0.9" fill="none"/>
<path d="M662.3 292.05L666.5 290.35L666.1 293.05Z" fill="#333"/>
<path d="M639.8 279.2H643.6M641.7 277.3V281.1" stroke="#333" stroke-width="0.85" fill="none"/>
<path d="M639.1 298.1H641.7" stroke="#333" stroke-width="0.9" fill="none"/>
<g fill="#555" font-size="4.8" aria-label="RL"><text x="665.1 668.83" y="300.42">RL</text></g>
<circle cx="587.1" cy="282.8" r="1.7" fill="#fff" stroke="#4c4c4c" stroke-width="0.9"/>
<circle cx="587.1" cy="295.3" r="1.7" fill="#fff" stroke="#4c4c4c" stroke-width="0.9"/>
<circle cx="636" cy="282.8" r="1.7" fill="#fff" stroke="#4c4c4c" stroke-width="0.9"/>
<circle cx="636" cy="295.3" r="1.7" fill="#fff" stroke="#4c4c4c" stroke-width="0.9"/>
<path d="M587.1 312.6 L636 312.6" fill="none" stroke="#4c4c4c" stroke-width="0.9"/>
<path d="M587.1 324.4 L636 324.4" fill="none" stroke="#4c4c4c" stroke-width="0.9"/>
<g fill="#333" font-size="7" aria-label="通道 4"><text x="603.5 610.15" y="321.82" font-size="6.65" font-weight="bold">通道</text><text x="620.11" y="321.52">4</text></g>
<path d="M636 312.6 L672.3 312.6 L672.3 324.4 L663.1 324.4" fill="none" stroke="#4c4c4c" stroke-width="0.9"/>
<path d="M636 324.4 L647.1 324.4" fill="none" stroke="#4c4c4c" stroke-width="0.9"/>
<rect x="647.1" y="322.9" width="16" height="3" rx="1.4" fill="#fff" stroke="#4c4c4c" stroke-width="0.8"/>
<path d="M665.7 314.5 C671.7 314.2 671.9 320.7 666.3 321" stroke="#333" stroke-width="0.9" fill="none"/>
<path d="M662.3 321.5L666.5 319.8L666.1 322.5Z" fill="#333"/>
<path d="M639.8 309H643.6M641.7 307.1V310.9" stroke="#333" stroke-width="0.85" fill="none"/>
<path d="M639.1 327.2H641.7" stroke="#333" stroke-width="0.9" fill="none"/>
<g fill="#555" font-size="4.8" aria-label="RL"><text x="665.1 668.83" y="329.52">RL</text></g>
<circle cx="587.1" cy="312.6" r="1.7" fill="#fff" stroke="#4c4c4c" stroke-width="0.9"/>
<circle cx="587.1" cy="324.4" r="1.7" fill="#fff" stroke="#4c4c4c" stroke-width="0.9"/>
<circle cx="636" cy="312.6" r="1.7" fill="#fff" stroke="#4c4c4c" stroke-width="0.9"/>
<circle cx="636" cy="324.4" r="1.7" fill="#fff" stroke="#4c4c4c" stroke-width="0.9"/>
<g fill="#3e3e3e" font-size="6.3" aria-label="DCS. PLC"><text x="654 658.51 663.03 667.19" y="221.26">DCS.</text><text x="670.62 674.78 678.25" y="221.26">PLC</text></g>
<g fill="#3e3e3e" font-size="6.2" aria-label="4-20mA/0-10V"><text x="645.5 649.63 652.38 656.51 660.65 666.49 671.31 673.72 677.85 680.6 684.73 688.86" y="278.12">4-20mA/0-10V</text></g>
<g fill="#3e3e3e" font-size="7.9" aria-label="16(+)15(-)"><text x="524.2 528.89 533.58 536.5 541.41 544.34 549.03 553.72 556.64 559.57" y="219.13">16(+)15(-)</text></g>
<g fill="#3e3e3e" font-size="7.9" aria-label="1(+)"><text x="569.4 574.2 577.25 582.27" y="227.23">1(+)</text></g>
<g fill="#3e3e3e" font-size="7.9" aria-label="2(-)"><text x="568.1 572.83 575.8 578.77" y="239.13">2(-)</text></g>
<g fill="#3e3e3e" font-size="7.9" aria-label="3(+)"><text x="566.9 571.64 574.61 579.57" y="257.73">3(+)</text></g>
<g fill="#3e3e3e" font-size="7.9" aria-label="4(-)"><text x="566.9 571.73 574.8 577.87" y="270.53">4(-)</text></g>
<g fill="#3e3e3e" font-size="7.9" aria-label="5(+)"><text x="566.4 571.2 574.25 579.27" y="285.13">5(+)</text></g>
<g fill="#3e3e3e" font-size="7.9" aria-label="6(-)"><text x="566.4 571.26 574.37 577.47" y="298.23">6(-)</text></g>
<g fill="#3e3e3e" font-size="7.9" aria-label="7(+)"><text x="566.4 571.2 574.25 579.27" y="314.63">7(+)</text></g>
<g fill="#3e3e3e" font-size="7.9" aria-label="8(-)"><text x="566.4 571.26 574.37 577.47" y="327.23">8(-)</text></g>
<g fill="#3e3e3e" font-size="7.9" aria-label="13(+)"><text x="504.7 509.43 514.16 517.12 522.07" y="263.83">13(+)</text></g>
<g fill="#3e3e3e" font-size="7.9" aria-label="9(S)"><text x="504.7 509.12 511.77 517.07" y="273.03">9(S)</text></g>
<g fill="#3e3e3e" font-size="7.9" aria-label="10(-)"><text x="504.7 509.52 514.35 517.41 520.47" y="283.43">10(-)</text></g>
<g fill="#3e3e3e" font-size="7.2" aria-label="OUT1"><text x="544.2 549.43 554.27 558.3" y="241.58">OUT1</text></g>
<g fill="#3e3e3e" font-size="7.2" aria-label="OUT2"><text x="545.2 550.43 555.27 559.3" y="263.88">OUT2</text></g>
<g fill="#3e3e3e" font-size="7.2" aria-label="OUT3"><text x="545.2 550.43 555.27 559.3" y="291.58">OUT3</text></g>
<g fill="#3e3e3e" font-size="7.2" aria-label="OUT4"><text x="545.2 550.43 555.27 559.3" y="320.08">OUT4</text></g>
<g fill="#3e3e3e" font-size="7.2" aria-label="IN"><text x="514.7 517" y="294.38">IN</text></g>
<circle cx="536.7" cy="208.7" r="1.7" fill="#fff" stroke="#4c4c4c" stroke-width="0.9"/>
<circle cx="549.5" cy="208.7" r="1.7" fill="#fff" stroke="#4c4c4c" stroke-width="0.9"/>
<circle cx="502.2" cy="259.5" r="1.7" fill="#fff" stroke="#4c4c4c" stroke-width="0.9"/>
<circle cx="502.2" cy="268.7" r="1.7" fill="#fff" stroke="#4c4c4c" stroke-width="0.9"/>
<circle cx="502.2" cy="280" r="1.7" fill="#fff" stroke="#4c4c4c" stroke-width="0.9"/>
<circle cx="635.5" cy="183.5" r="1.7" fill="#fff" stroke="#4c4c4c" stroke-width="0.9"/>
<circle cx="635.5" cy="195" r="1.7" fill="#fff" stroke="#4c4c4c" stroke-width="0.9"/>
<path d="M378.2 268.4 L378.2 261.6 L387.2 261.6 L387.2 270.5 L396.7 270.5" fill="none" stroke="#4c4c4c" stroke-width="0.9"/>
<path d="M378.2 273.4 L378.2 277.3 L396.7 277.3" fill="none" stroke="#4c4c4c" stroke-width="0.9"/>
<circle cx="378.2" cy="270.9" r="2.3" fill="#fff" stroke="#4c4c4c" stroke-width="1"/>
<path d="M378.2 269.1 L378.2 272.7" fill="none" stroke="#4c4c4c" stroke-width="0.8"/>
<path d="M373.5 266.1 L373.5 274.7" fill="none" stroke="#444" stroke-width="1.7"/>
<circle cx="398.3" cy="270.5" r="1.6" fill="#fff" stroke="#4c4c4c" stroke-width="0.9"/>
<circle cx="398.3" cy="277.3" r="1.6" fill="#fff" stroke="#4c4c4c" stroke-width="0.9"/>
<path d="M378.9 256.6H383.5M381.2 254.3V258.9" stroke="#333" stroke-width="0.9" fill="none"/>
<path d="M378.9 280.6H380.9" stroke="#333" stroke-width="0.9" fill="none"/>
<g fill="#3e3e3e" font-size="7.8" aria-label="9"><text x="392.65" y="268.09">9</text></g>
<g fill="#3e3e3e" font-size="7.8" aria-label="10"><text x="388.9 393.16" y="285.09">10</text></g>
<g fill="#8a8a8a" font-size="6" aria-label="电流源/电压源"><text class="sf" x="361.2 367.2 373.2" y="292.02" font-size="6">电流源</text><text x="379.2" y="291.75">/</text><text class="sf" x="384 390 396" y="292.02" font-size="6">电压源</text></g>
<rect x="409.1" y="257.4" width="15.3" height="13.3" fill="none" stroke="#4c4c4c" stroke-width="1"/>
<rect x="424.4" y="257.4" width="1.7" height="15.8" fill="none" stroke="#4c4c4c" stroke-width="0.9"/>
<rect x="409.5" y="258.9" width="13.1" height="12.7" rx="4.2" fill="#fff" stroke="#4c4c4c" stroke-width="1.6"/>
<circle cx="415.9" cy="265.2" r="3.6" fill="#fff" stroke="#4c4c4c" stroke-width="0.9"/>
<rect x="413.4" y="271.4" width="5" height="3.3" fill="#fff" stroke="#4c4c4c" stroke-width="0.8"/>
<rect x="409.4" y="274.7" width="12.5" height="16.5" rx="2.8" fill="#fff" stroke="#4c4c4c" stroke-width="1"/>
<path d="M409.4 279.4 L421.9 279.4" fill="none" stroke="#4c4c4c" stroke-width="0.9"/>
<path d="M409.4 285.4 L421.9 285.4" fill="none" stroke="#4c4c4c" stroke-width="0.9"/>
<path d="M426.1 259.7 L451 259.7" fill="none" stroke="#4c4c4c" stroke-width="0.9"/>
<path d="M426.1 270.9 L451 270.9" fill="none" stroke="#4c4c4c" stroke-width="0.9"/>
<circle cx="452.6" cy="259.7" r="1.6" fill="#fff" stroke="#4c4c4c" stroke-width="0.9"/>
<circle cx="452.6" cy="270.9" r="1.6" fill="#fff" stroke="#4c4c4c" stroke-width="0.9"/>
<path d="M432.1 255.2H436.7M434.4 252.9V257.5" stroke="#333" stroke-width="0.9" fill="none"/>
<path d="M432.3 273.4H434.1" stroke="#333" stroke-width="0.9" fill="none"/>
<g fill="#3e3e3e" font-size="7.6" aria-label="13"><text x="441.4 445.37" y="257.62">13</text></g>
<g fill="#3e3e3e" font-size="7" aria-label="9"><text x="441.6" y="278.21">9</text></g>
<path d="M438.5 261.6 C432.5 261.3 432.3 267.8 437.9 268.1" stroke="#333" stroke-width="0.9" fill="none"/>
<path d="M441.9 268.6L437.7 266.9L438.1 269.6Z" fill="#333"/>
<g fill="#3e3e3e" font-size="6.8" aria-label="4-20mA"><text x="426 430.18 432.84 437.02 441.2 447.26" y="288.33">4-20mA</text></g>
<g fill="#8a8a8a" font-size="6.2" aria-label="二线制变送器"><text class="sf" x="414.6 420.94 427.28 433.62 439.96 446.3" y="298.4">二线制变送器</text></g>
<rect x="460.1" y="257.4" width="15.3" height="13.3" fill="none" stroke="#4c4c4c" stroke-width="1"/>
<rect x="475.4" y="257.4" width="1.7" height="15.8" fill="none" stroke="#4c4c4c" stroke-width="0.9"/>
<rect x="460.5" y="258.9" width="13.1" height="12.7" rx="4.2" fill="#fff" stroke="#4c4c4c" stroke-width="1.6"/>
<circle cx="466.9" cy="265.2" r="3.6" fill="#fff" stroke="#4c4c4c" stroke-width="0.9"/>
<rect x="464.4" y="271.4" width="5" height="3.3" fill="#fff" stroke="#4c4c4c" stroke-width="0.8"/>
<rect x="460.4" y="274.7" width="12.5" height="16.5" rx="2.8" fill="#fff" stroke="#4c4c4c" stroke-width="1"/>
<path d="M460.4 279.4 L472.9 279.4" fill="none" stroke="#4c4c4c" stroke-width="0.9"/>
<path d="M460.4 285.4 L472.9 285.4" fill="none" stroke="#4c4c4c" stroke-width="0.9"/>
<path d="M477.1 259.7 L502.2 259.7" fill="none" stroke="#4c4c4c" stroke-width="0.9"/>
<path d="M477.1 268.9 L502.2 268.9" fill="none" stroke="#4c4c4c" stroke-width="0.9"/>
<path d="M477.1 273.2 L484.3 273.2 L484.3 280 L502.2 280" fill="none" stroke="#4c4c4c" stroke-width="0.9"/>
<path d="M480.9 253.8H485.5M483.2 251.5V256.1" stroke="#333" stroke-width="0.9" fill="none"/>
<path d="M480.9 265H485.5M483.2 262.7V267.3" stroke="#333" stroke-width="0.9" fill="none"/>
<path d="M478.7 275.4H480.5" stroke="#333" stroke-width="0.9" fill="none"/>
<path d="M493.8 271.5 C499.8 271.2 500 277.7 494.4 278" stroke="#333" stroke-width="0.9" fill="none"/>
<path d="M490.4 278.5L494.6 276.8L494.2 279.5Z" fill="#333"/>
<g fill="#3e3e3e" font-size="6.8" aria-label="4-20mA"><text x="475.3 479.6 482.38 486.68 490.98 497.16" y="288.33">4-20mA</text></g>
<g fill="#8a8a8a" font-size="6.2" aria-label="三线制变送器"><text class="sf" x="461.6 468.1 474.6 481.1 487.6 494.1" y="298.9">三线制变送器</text></g>
<g fill="#222" font-size="12" aria-label="一进四出"><text x="419.3 431.4 443.5 455.6" y="332.64">一进四出</text></g>
<path d="M188.9 283.3 L188.9 258.7 L288 258.7" fill="none" stroke="#4c4c4c" stroke-width="0.9"/>
<path d="M202.1 283.3 L202.1 269.8 L288 269.8" fill="none" stroke="#4c4c4c" stroke-width="0.9"/>
<rect x="154.3" y="283.3" width="85.5" height="106.4" fill="none" stroke="#4c4c4c" stroke-width="1"/>
<path d="M154.99 282.26 L196.09 309.36" fill="none" stroke="#4c4c4c" stroke-width="0.85"/>
<path d="M240.45 284.37 L196.05 311.47" fill="none" stroke="#4c4c4c" stroke-width="0.85"/>
<path d="M153.61 284.34 L194.71 311.44" fill="none" stroke="#4c4c4c" stroke-width="0.85"/>
<path d="M239.15 282.23 L194.75 309.33" fill="none" stroke="#4c4c4c" stroke-width="0.85"/>
<path d="M193.65 311 L193.65 340 L154.3 340" fill="none" stroke="#4c4c4c" stroke-width="0.85"/>
<path d="M197.15 311 L197.15 340 L239.8 340" fill="none" stroke="#4c4c4c" stroke-width="0.85"/>
<path d="M154.3 343.6 L193.65 343.6 L193.65 389.7" fill="none" stroke="#4c4c4c" stroke-width="0.85"/>
<path d="M239.8 343.6 L197.15 343.6 L197.15 389.7" fill="none" stroke="#4c4c4c" stroke-width="0.85"/>
<rect x="288" y="250.5" width="62.2" height="25" fill="none" stroke="#4c4c4c" stroke-width="1"/>
<path d="M292.2 255.3H295.8M294 253.5V257.1" stroke="#333" stroke-width="0.8" fill="none"/>
<path d="M292 273.6H294" stroke="#333" stroke-width="0.9" fill="none"/>
<g fill="#3e3e3e" font-size="8.5" aria-label="POWER"><text transform="scale(0.84 1)" x="363.45 369.43 376.34 384.67 390.65" y="260.04">POWER</text></g>
<g fill="#3e3e3e" font-size="6.3" aria-label="DC24V."><text x="305.8 310.62 315.44 319.21 322.98 327.45" y="267.46">DC24V.</text></g>
<rect x="288.5" y="284.7" width="61.9" height="112.5" fill="none" stroke="#4c4c4c" stroke-width="1"/>
<path d="M239.8 305 L288.5 305" fill="none" stroke="#4c4c4c" stroke-width="0.9"/>
<path d="M239.8 317.4 L288.5 317.4" fill="none" stroke="#4c4c4c" stroke-width="0.9"/>
<g fill="#333" font-size="7.2" aria-label="通道1"><text x="256.5 263.9" y="314.6" font-size="6.84" font-weight="bold">通道</text><text x="271.3" y="314.29">1</text></g>
<path d="M288.5 305 L325.3 305 L325.3 317.4 L315.1 317.4" fill="none" stroke="#4c4c4c" stroke-width="0.9"/>
<path d="M288.5 317.4 L299.3 317.4" fill="none" stroke="#4c4c4c" stroke-width="0.9"/>
<rect x="299.3" y="315.9" width="15.8" height="3" rx="1.4" fill="#fff" stroke="#4c4c4c" stroke-width="0.8"/>
<path d="M318.7 307.2 C324.7 306.9 324.9 313.4 319.3 313.7" stroke="#333" stroke-width="0.9" fill="none"/>
<path d="M315.3 314.2L319.5 312.5L319.1 315.2Z" fill="#333"/>
<path d="M292.3 301.4H296.1M294.2 299.5V303.3" stroke="#333" stroke-width="0.85" fill="none"/>
<path d="M291.6 320.2H294.2" stroke="#333" stroke-width="0.9" fill="none"/>
<g fill="#555" font-size="4.8" aria-label="RL"><text x="318.1 321.83" y="322.52">RL</text></g>
<circle cx="239.8" cy="305" r="1.7" fill="#fff" stroke="#4c4c4c" stroke-width="0.9"/>
<circle cx="239.8" cy="317.4" r="1.7" fill="#fff" stroke="#4c4c4c" stroke-width="0.9"/>
<circle cx="288.5" cy="305" r="1.7" fill="#fff" stroke="#4c4c4c" stroke-width="0.9"/>
<circle cx="288.5" cy="317.4" r="1.7" fill="#fff" stroke="#4c4c4c" stroke-width="0.9"/>
<path d="M239.8 359.2 L288.5 359.2" fill="none" stroke="#4c4c4c" stroke-width="0.9"/>
<path d="M239.8 370.9 L288.5 370.9" fill="none" stroke="#4c4c4c" stroke-width="0.9"/>
<g fill="#333" font-size="7.2" aria-label="通道 2"><text x="256.5 263.34" y="368.45" font-size="6.84" font-weight="bold">通道</text><text x="272.8" y="368.14">2</text></g>
<path d="M288.5 359.2 L325.3 359.2 L325.3 370.9 L315.1 370.9" fill="none" stroke="#4c4c4c" stroke-width="0.9"/>
<path d="M288.5 370.9 L299.3 370.9" fill="none" stroke="#4c4c4c" stroke-width="0.9"/>
<rect x="299.3" y="369.4" width="15.8" height="3" rx="1.4" fill="#fff" stroke="#4c4c4c" stroke-width="0.8"/>
<path d="M318.7 361.05 C324.7 360.75 324.9 367.25 319.3 367.55" stroke="#333" stroke-width="0.9" fill="none"/>
<path d="M315.3 368.05L319.5 366.35L319.1 369.05Z" fill="#333"/>
<path d="M292.3 355.6H296.1M294.2 353.7V357.5" stroke="#333" stroke-width="0.85" fill="none"/>
<path d="M291.6 373.7H294.2" stroke="#333" stroke-width="0.9" fill="none"/>
<g fill="#555" font-size="4.8" aria-label="RL"><text x="318.1 321.83" y="376.02">RL</text></g>
<circle cx="239.8" cy="359.2" r="1.7" fill="#fff" stroke="#4c4c4c" stroke-width="0.9"/>
<circle cx="239.8" cy="370.9" r="1.7" fill="#fff" stroke="#4c4c4c" stroke-width="0.9"/>
<circle cx="288.5" cy="359.2" r="1.7" fill="#fff" stroke="#4c4c4c" stroke-width="0.9"/>
<circle cx="288.5" cy="370.9" r="1.7" fill="#fff" stroke="#4c4c4c" stroke-width="0.9"/>
<g fill="#3e3e3e" font-size="6.4" aria-label="DCS. PLC"><text x="314.2 318.78 323.35 327.58" y="338.69">DCS.</text><text x="331.04 335.26 338.78" y="338.69">PLC</text></g>
<g fill="#3e3e3e" font-size="6.2" aria-label="4-20mA/0-10V"><text x="241.2 245.36 248.14 252.29 256.45 262.33 267.18 269.61 273.77 276.55 280.71 284.86" y="340.62">4-20mA/0-10V</text></g>
<g fill="#3e3e3e" font-size="8.2" aria-label="16(+)15(-)"><text x="173.6 178.68 183.77 187.02 192.34 195.59 200.68 205.76 209.01 212.27" y="292.34">16(+)15(-)</text></g>
<g fill="#3e3e3e" font-size="8.2" aria-label="13(+)"><text x="157.1 162.37 167.64 171.07 176.57" y="306.34">13(+)</text></g>
<g fill="#3e3e3e" font-size="8.2" aria-label="9(S)"><text x="157.1 161.76 164.6 170.17" y="315.54">9(S)</text></g>
<g fill="#3e3e3e" font-size="8.2" aria-label="10(-)"><text x="157.1 161.98 166.86 169.92 172.97" y="325.94">10(-)</text></g>
<g fill="#3e3e3e" font-size="8.2" aria-label="1(+)"><text x="223.1 227.49 230.05 234.67" y="307.74">1(+)</text></g>
<g fill="#3e3e3e" font-size="8.2" aria-label="2(-)"><text x="223.6 228.18 230.92 233.67" y="320.44">2(-)</text></g>
<g fill="#3e3e3e" font-size="8.2" aria-label="14(+)"><text x="157.1 162.02 166.94 170.02 175.17" y="358.34">14(+)</text></g>
<g fill="#3e3e3e" font-size="8.2" aria-label="11(S)"><text x="157.1 161.47 165.85 168.39 173.67" y="368.34">11(S)</text></g>
<g fill="#3e3e3e" font-size="8.2" aria-label="12(-)"><text x="157.1 161.98 166.86 169.92 172.97" y="379.14">12(-)</text></g>
<g fill="#3e3e3e" font-size="8.2" aria-label="5(+)"><text x="218.9 223.76 226.78 231.87" y="361.74">5(+)</text></g>
<g fill="#3e3e3e" font-size="8.2" aria-label="6(-)"><text x="219.3 224.14 227.16 230.17" y="373.74">6(-)</text></g>
<g fill="#3e3e3e" font-size="7.5" aria-label="IN1"><text x="178.6 180.35 185.43" y="337.49">IN1</text></g>
<g fill="#3e3e3e" font-size="7.5" aria-label="OUT1"><text x="209.3 214.73 219.75 223.93" y="336.49">OUT1</text></g>
<g fill="#3e3e3e" font-size="7.5" aria-label="IN2"><text x="180 182.05 187.43" y="385.69">IN2</text></g>
<g fill="#3e3e3e" font-size="7.5" aria-label="OUT2"><text x="205 210.43 215.45 219.63" y="384.29">OUT2</text></g>
<circle cx="188.9" cy="283.3" r="1.7" fill="#fff" stroke="#4c4c4c" stroke-width="0.9"/>
<circle cx="202.1" cy="283.3" r="1.7" fill="#fff" stroke="#4c4c4c" stroke-width="0.9"/>
<circle cx="154.3" cy="301.7" r="1.7" fill="#fff" stroke="#4c4c4c" stroke-width="0.9"/>
<circle cx="154.3" cy="311.6" r="1.7" fill="#fff" stroke="#4c4c4c" stroke-width="0.9"/>
<circle cx="154.3" cy="322.2" r="1.7" fill="#fff" stroke="#4c4c4c" stroke-width="0.9"/>
<circle cx="154.3" cy="355.4" r="1.7" fill="#fff" stroke="#4c4c4c" stroke-width="0.9"/>
<circle cx="154.3" cy="364.9" r="1.7" fill="#fff" stroke="#4c4c4c" stroke-width="0.9"/>
<circle cx="154.3" cy="375.8" r="1.7" fill="#fff" stroke="#4c4c4c" stroke-width="0.9"/>
<circle cx="288" cy="258.7" r="1.7" fill="#fff" stroke="#4c4c4c" stroke-width="0.9"/>
<circle cx="288" cy="269.8" r="1.7" fill="#fff" stroke="#4c4c4c" stroke-width="0.9"/>
<path d="M30.3 310.6 L30.3 303.8 L39.3 303.8 L39.3 312.7 L48.8 312.7" fill="none" stroke="#4c4c4c" stroke-width="0.9"/>
<path d="M30.3 315.6 L30.3 319.5 L48.8 319.5" fill="none" stroke="#4c4c4c" stroke-width="0.9"/>
<circle cx="30.3" cy="313.1" r="2.3" fill="#fff" stroke="#4c4c4c" stroke-width="1"/>
<path d="M30.3 311.3 L30.3 314.9" fill="none" stroke="#4c4c4c" stroke-width="0.8"/>
<path d="M25.6 308.3 L25.6 316.9" fill="none" stroke="#444" stroke-width="1.7"/>
<circle cx="50.4" cy="312.7" r="1.6" fill="#fff" stroke="#4c4c4c" stroke-width="0.9"/>
<circle cx="50.4" cy="319.5" r="1.6" fill="#fff" stroke="#4c4c4c" stroke-width="0.9"/>
<path d="M31 298.8H35.6M33.3 296.5V301.1" stroke="#333" stroke-width="0.9" fill="none"/>
<path d="M31 322.8H33" stroke="#333" stroke-width="0.9" fill="none"/>
<g fill="#3e3e3e" font-size="7.8" aria-label="9"><text x="44.75" y="310.29">9</text></g>
<g fill="#3e3e3e" font-size="7.8" aria-label="10"><text x="41 45.26" y="327.29">10</text></g>
<g fill="#8a8a8a" font-size="6" aria-label="电流源/电压源"><text class="sf" x="15.7 21.7 27.7" y="334.22" font-size="6">电流源</text><text x="33.7" y="333.95">/</text><text class="sf" x="38.5 44.5 50.5" y="334.22" font-size="6">电压源</text></g>
<rect x="61.2" y="299.6" width="15.3" height="13.3" fill="none" stroke="#4c4c4c" stroke-width="1"/>
<rect x="76.5" y="299.6" width="1.7" height="15.8" fill="none" stroke="#4c4c4c" stroke-width="0.9"/>
<rect x="61.6" y="301.1" width="13.1" height="12.7" rx="4.2" fill="#fff" stroke="#4c4c4c" stroke-width="1.6"/>
<circle cx="68" cy="307.4" r="3.6" fill="#fff" stroke="#4c4c4c" stroke-width="0.9"/>
<rect x="65.5" y="313.6" width="5" height="3.3" fill="#fff" stroke="#4c4c4c" stroke-width="0.8"/>
<rect x="61.5" y="316.9" width="12.5" height="16.5" rx="2.8" fill="#fff" stroke="#4c4c4c" stroke-width="1"/>
<path d="M61.5 321.6 L74 321.6" fill="none" stroke="#4c4c4c" stroke-width="0.9"/>
<path d="M61.5 327.6 L74 327.6" fill="none" stroke="#4c4c4c" stroke-width="0.9"/>
<path d="M78.2 301.9 L103.1 301.9" fill="none" stroke="#4c4c4c" stroke-width="0.9"/>
<path d="M78.2 313.1 L103.1 313.1" fill="none" stroke="#4c4c4c" stroke-width="0.9"/>
<circle cx="104.7" cy="301.9" r="1.6" fill="#fff" stroke="#4c4c4c" stroke-width="0.9"/>
<circle cx="104.7" cy="313.1" r="1.6" fill="#fff" stroke="#4c4c4c" stroke-width="0.9"/>
<path d="M84.2 297.4H88.8M86.5 295.1V299.7" stroke="#333" stroke-width="0.9" fill="none"/>
<path d="M84.4 315.6H86.2" stroke="#333" stroke-width="0.9" fill="none"/>
<g fill="#3e3e3e" font-size="7.6" aria-label="13"><text x="93.5 97.47" y="299.82">13</text></g>
<g fill="#3e3e3e" font-size="7" aria-label="9"><text x="93.7" y="320.41">9</text></g>
<path d="M90.6 303.8 C84.6 303.5 84.4 310 90 310.3" stroke="#333" stroke-width="0.9" fill="none"/>
<path d="M94 310.8L89.8 309.1L90.2 311.8Z" fill="#333"/>
<g fill="#3e3e3e" font-size="6.8" aria-label="4-20mA"><text x="78.1 82.28 84.94 89.12 93.3 99.36" y="330.53">4-20mA</text></g>
<g fill="#8a8a8a" font-size="6.2" aria-label="二线制变送器"><text class="sf" x="66.7 73.04 79.38 85.72 92.06 98.4" y="340.6">二线制变送器</text></g>
<rect x="112.2" y="299.6" width="15.3" height="13.3" fill="none" stroke="#4c4c4c" stroke-width="1"/>
<rect x="127.5" y="299.6" width="1.7" height="15.8" fill="none" stroke="#4c4c4c" stroke-width="0.9"/>
<rect x="112.6" y="301.1" width="13.1" height="12.7" rx="4.2" fill="#fff" stroke="#4c4c4c" stroke-width="1.6"/>
<circle cx="119" cy="307.4" r="3.6" fill="#fff" stroke="#4c4c4c" stroke-width="0.9"/>
<rect x="116.5" y="313.6" width="5" height="3.3" fill="#fff" stroke="#4c4c4c" stroke-width="0.8"/>
<rect x="112.5" y="316.9" width="12.5" height="16.5" rx="2.8" fill="#fff" stroke="#4c4c4c" stroke-width="1"/>
<path d="M112.5 321.6 L125 321.6" fill="none" stroke="#4c4c4c" stroke-width="0.9"/>
<path d="M112.5 327.6 L125 327.6" fill="none" stroke="#4c4c4c" stroke-width="0.9"/>
<path d="M129.2 301.9 L154.3 301.9" fill="none" stroke="#4c4c4c" stroke-width="0.9"/>
<path d="M129.2 311.6 L154.3 311.6" fill="none" stroke="#4c4c4c" stroke-width="0.9"/>
<path d="M129.2 315.4 L136.4 315.4 L136.4 322.2 L154.3 322.2" fill="none" stroke="#4c4c4c" stroke-width="0.9"/>
<path d="M133 296H137.6M135.3 293.7V298.3" stroke="#333" stroke-width="0.9" fill="none"/>
<path d="M133 307.2H137.6M135.3 304.9V309.5" stroke="#333" stroke-width="0.9" fill="none"/>
<path d="M130.8 317.6H132.6" stroke="#333" stroke-width="0.9" fill="none"/>
<path d="M145.9 313.7 C151.9 313.4 152.1 319.9 146.5 320.2" stroke="#333" stroke-width="0.9" fill="none"/>
<path d="M142.5 320.7L146.7 319L146.3 321.7Z" fill="#333"/>
<g fill="#3e3e3e" font-size="6.8" aria-label="4-20mA"><text x="127.4 131.7 134.48 138.78 143.08 149.26" y="330.53">4-20mA</text></g>
<g fill="#8a8a8a" font-size="6.2" aria-label="三线制变送器"><text class="sf" x="113.7 120.2 126.7 133.2 139.7 146.2" y="341.1">三线制变送器</text></g>
<path d="M30.3 364.3 L30.3 357.5 L39.3 357.5 L39.3 366.4 L48.8 366.4" fill="none" stroke="#4c4c4c" stroke-width="0.9"/>
<path d="M30.3 369.3 L30.3 373.2 L48.8 373.2" fill="none" stroke="#4c4c4c" stroke-width="0.9"/>
<circle cx="30.3" cy="366.8" r="2.3" fill="#fff" stroke="#4c4c4c" stroke-width="1"/>
<path d="M30.3 365 L30.3 368.6" fill="none" stroke="#4c4c4c" stroke-width="0.8"/>
<path d="M25.6 362 L25.6 370.6" fill="none" stroke="#444" stroke-width="1.7"/>
<circle cx="50.4" cy="366.4" r="1.6" fill="#fff" stroke="#4c4c4c" stroke-width="0.9"/>
<circle cx="50.4" cy="373.2" r="1.6" fill="#fff" stroke="#4c4c4c" stroke-width="0.9"/>
<path d="M31 352.5H35.6M33.3 350.2V354.8" stroke="#333" stroke-width="0.9" fill="none"/>
<path d="M31 376.5H33" stroke="#333" stroke-width="0.9" fill="none"/>
<g fill="#3e3e3e" font-size="7.8" aria-label="11"><text x="42.8 46.66" y="363.99">11</text></g>
<g fill="#3e3e3e" font-size="7.8" aria-label="12"><text x="41 45.26" y="380.99">12</text></g>
<g fill="#8a8a8a" font-size="6" aria-label="电流源/电压源"><text class="sf" x="14.1 20.1 26.1" y="387.92" font-size="6">电流源</text><text x="32.1" y="387.65">/</text><text class="sf" x="36.9 42.9 48.9" y="387.92" font-size="6">电压源</text></g>
<rect x="61.2" y="353.3" width="15.3" height="13.3" fill="none" stroke="#4c4c4c" stroke-width="1"/>
<rect x="76.5" y="353.3" width="1.7" height="15.8" fill="none" stroke="#4c4c4c" stroke-width="0.9"/>
<rect x="61.6" y="354.8" width="13.1" height="12.7" rx="4.2" fill="#fff" stroke="#4c4c4c" stroke-width="1.6"/>
<circle cx="68" cy="361.1" r="3.6" fill="#fff" stroke="#4c4c4c" stroke-width="0.9"/>
<rect x="65.5" y="367.3" width="5" height="3.3" fill="#fff" stroke="#4c4c4c" stroke-width="0.8"/>
<rect x="61.5" y="370.6" width="12.5" height="16.5" rx="2.8" fill="#fff" stroke="#4c4c4c" stroke-width="1"/>
<path d="M61.5 375.3 L74 375.3" fill="none" stroke="#4c4c4c" stroke-width="0.9"/>
<path d="M61.5 381.3 L74 381.3" fill="none" stroke="#4c4c4c" stroke-width="0.9"/>
<path d="M78.2 355.6 L103.1 355.6" fill="none" stroke="#4c4c4c" stroke-width="0.9"/>
<path d="M78.2 366.8 L103.1 366.8" fill="none" stroke="#4c4c4c" stroke-width="0.9"/>
<circle cx="104.7" cy="355.6" r="1.6" fill="#fff" stroke="#4c4c4c" stroke-width="0.9"/>
<circle cx="104.7" cy="366.8" r="1.6" fill="#fff" stroke="#4c4c4c" stroke-width="0.9"/>
<path d="M84.2 351.1H88.8M86.5 348.8V353.4" stroke="#333" stroke-width="0.9" fill="none"/>
<path d="M84.4 369.3H86.2" stroke="#333" stroke-width="0.9" fill="none"/>
<g fill="#3e3e3e" font-size="7.6" aria-label="14"><text x="93.5 97.47" y="353.52">14</text></g>
<g fill="#3e3e3e" font-size="7" aria-label="11"><text x="93.7 97.41" y="374.11">11</text></g>
<path d="M90.6 357.5 C84.6 357.2 84.4 363.7 90 364" stroke="#333" stroke-width="0.9" fill="none"/>
<path d="M94 364.5L89.8 362.8L90.2 365.5Z" fill="#333"/>
<g fill="#3e3e3e" font-size="6.8" aria-label="4-20mA"><text x="78.1 82.28 84.94 89.12 93.3 99.36" y="384.23">4-20mA</text></g>
<g fill="#8a8a8a" font-size="6.2" aria-label="二线制变送器"><text class="sf" x="66.7 73.04 79.38 85.72 92.06 98.4" y="394.3">二线制变送器</text></g>
<rect x="112.2" y="353.3" width="15.3" height="13.3" fill="none" stroke="#4c4c4c" stroke-width="1"/>
<rect x="127.5" y="353.3" width="1.7" height="15.8" fill="none" stroke="#4c4c4c" stroke-width="0.9"/>
<rect x="112.6" y="354.8" width="13.1" height="12.7" rx="4.2" fill="#fff" stroke="#4c4c4c" stroke-width="1.6"/>
<circle cx="119" cy="361.1" r="3.6" fill="#fff" stroke="#4c4c4c" stroke-width="0.9"/>
<rect x="116.5" y="367.3" width="5" height="3.3" fill="#fff" stroke="#4c4c4c" stroke-width="0.8"/>
<rect x="112.5" y="370.6" width="12.5" height="16.5" rx="2.8" fill="#fff" stroke="#4c4c4c" stroke-width="1"/>
<path d="M112.5 375.3 L125 375.3" fill="none" stroke="#4c4c4c" stroke-width="0.9"/>
<path d="M112.5 381.3 L125 381.3" fill="none" stroke="#4c4c4c" stroke-width="0.9"/>
<path d="M129.2 355.6 L154.3 355.6" fill="none" stroke="#4c4c4c" stroke-width="0.9"/>
<path d="M129.2 364.9 L154.3 364.9" fill="none" stroke="#4c4c4c" stroke-width="0.9"/>
<path d="M129.2 369.1 L136.4 369.1 L136.4 375.8 L154.3 375.8" fill="none" stroke="#4c4c4c" stroke-width="0.9"/>
<path d="M133 349.7H137.6M135.3 347.4V352" stroke="#333" stroke-width="0.9" fill="none"/>
<path d="M133 360.9H137.6M135.3 358.6V363.2" stroke="#333" stroke-width="0.9" fill="none"/>
<path d="M130.8 371.3H132.6" stroke="#333" stroke-width="0.9" fill="none"/>
<path d="M145.9 367.4 C151.9 367.1 152.1 373.6 146.5 373.9" stroke="#333" stroke-width="0.9" fill="none"/>
<path d="M142.5 374.4L146.7 372.7L146.3 375.4Z" fill="#333"/>
<g fill="#3e3e3e" font-size="6.8" aria-label="4-20mA"><text x="127.4 131.7 134.48 138.78 143.08 149.26" y="384.23">4-20mA</text></g>
<g fill="#8a8a8a" font-size="6.2" aria-label="三线制变送器"><text class="sf" x="113.7 120.2 126.7 133.2 139.7 146.2" y="394.8">三线制变送器</text></g>
<g fill="#222" font-size="12" aria-label="二进二出"><text x="74.5 86.6 98.7 110.8" y="287.14">二进二出</text></g>
</g>
</svg>
</body></html>
